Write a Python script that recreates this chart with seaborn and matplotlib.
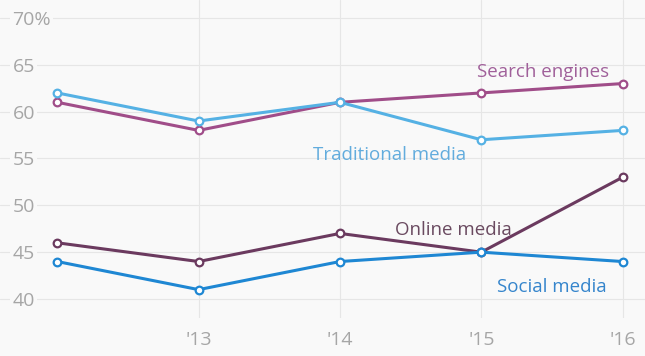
import pandas as pd
import seaborn as sns
import matplotlib.pyplot as plt

# values
years = [2012, 2013, 2014, 2015, 2016]
search_engines = [61, 58, 61, 62, 63]
traditional_media = [62, 59, 61, 57, 58]
online_media = [46, 44, 47, 45, 53]
social_media = [44, 41, 44, 45, 44]

series = {
    "Search engines": search_engines,
    "Traditional media": traditional_media,
    "Online media": online_media,
    "Social media": social_media,
}
palette = {
    "Search engines": "#a04d89",
    "Traditional media": "#55b1e4",
    "Online media": "#6b3a5f",
    "Social media": "#1e87d3",
}
text_colors = {
    "Search engines": "#a0609a",
    "Traditional media": "#62acdd",
    "Online media": "#6a4a60",
    "Social media": "#3585cc",
}
# label anchor positions (data coords)
label_pos = {
    "Search engines": (2015.44, 64.2),
    "Traditional media": (2014.35, 55.35),
    "Online media": (2014.8, 47.35),
    "Social media": (2015.5, 41.25),
}

df = pd.DataFrame(
    [(name, y, v) for name, vals in series.items() for y, v in zip(years, vals)],
    columns=["series", "year", "value"],
)

sns.set_style("white")
plt.rcParams["font.family"] = ["Open Sans", "DejaVu Sans"]

bg = "#f9f9f9"
fig = plt.figure(figsize=(6.45, 3.56), dpi=100, facecolor=bg)
ax = fig.add_axes([0, 0.1067, 1, 0.8933], facecolor=bg)

sns.lineplot(
    data=df, x="year", y="value", hue="series", palette=palette,
    marker="o", markersize=5.5, markerfacecolor="white", markeredgewidth=1.6,
    linewidth=2.2, legend=False, ax=ax, zorder=3,
)
for line in ax.get_lines():
    line.set_markeredgecolor(line.get_color())

for name, (x, y) in label_pos.items():
    ax.text(x, y, name, color=text_colors[name], fontsize=13.5, ha="center",
            va="center", zorder=4)

ax.set_xlim(2011.595, 2016.158)
ax.set_ylim(37.97, 71.92)
ax.set_xticks([2013, 2014, 2015, 2016])
ax.set_xticklabels(["'13", "'14", "'15", "'16"])
ax.set_yticks([40, 45, 50, 55, 60, 65, 70])
ax.set_yticklabels(["40", "45", "50", "55", "60", "65", "70%"])
ax.grid(True, color="#e6e6e6", linewidth=0.8, zorder=0)
ax.set_axisbelow(True)
for s in ax.spines.values():
    s.set_visible(False)

ax.tick_params(axis="x", length=0, pad=9, labelsize=14, labelcolor="#a6a6a6")
ax.tick_params(axis="y", length=0, pad=-9, labelsize=14, labelcolor="#a6a6a6")
for lab in ax.get_yticklabels():
    lab.set_ha("left")
    lab.set_bbox(dict(facecolor=bg, edgecolor="none", pad=1.5))

ax.set_xlabel("")
ax.set_ylabel("")
fig.savefig("out.png", dpi=100, facecolor=bg)
